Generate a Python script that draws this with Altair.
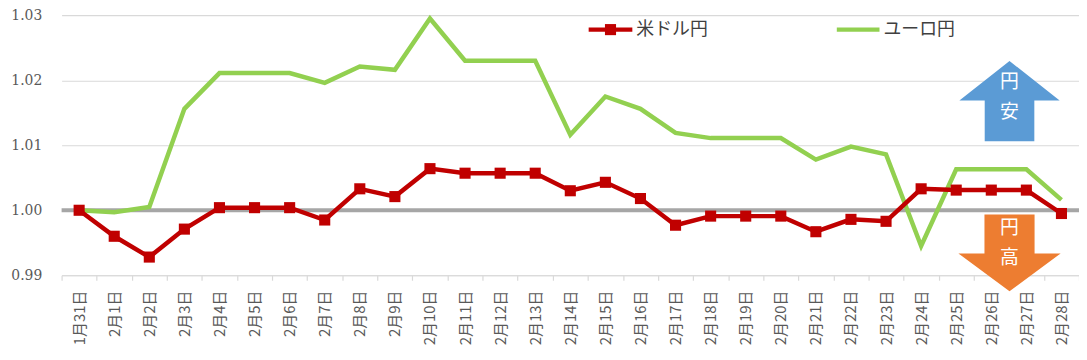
import altair as alt
import pandas as pd

# ---- data ----
dates = ["1月31日", "2月1日", "2月2日", "2月3日", "2月4日", "2月5日", "2月6日", "2月7日",
         "2月8日", "2月9日", "2月10日", "2月11日", "2月12日", "2月13日", "2月14日",
         "2月15日", "2月16日", "2月17日", "2月18日", "2月19日", "2月20日", "2月21日",
         "2月22日", "2月23日", "2月24日", "2月25日", "2月26日", "2月27日", "2月28日"]
usd_jpy = [1.0000, 0.9960, 0.9928, 0.9971, 1.0004, 1.0004, 1.0004, 0.9985, 1.0033, 1.0021,
           1.0064, 1.0057, 1.0057, 1.0057, 1.0030, 1.0043, 1.0018, 0.9977, 0.9991, 0.9991,
           0.9991, 0.9967, 0.9986, 0.9983, 1.0033, 1.0031, 1.0031, 1.0031, 0.9995]
eur_jpy = [1.0000, 0.9997, 1.0005, 1.0156, 1.0211, 1.0211, 1.0211, 1.0196, 1.0221, 1.0216,
           1.0295, 1.0230, 1.0230, 1.0230, 1.0116, 1.0175, 1.0156, 1.0119, 1.0111, 1.0111,
           1.0111, 1.0078, 1.0098, 1.0086, 0.9945, 1.0063, 1.0063, 1.0063, 1.0016]
series_names = ["米ドル円", "ユーロ円"]
y_ticks = [0.99, 1.00, 1.01, 1.02, 1.03]
baseline_value = [1.00]
up_label = ["円", "安"]
down_label = ["円", "高"]

RED = "#C00000"
GREEN = "#92D050"
GRID = "#D9D9D9"

usd_df = pd.DataFrame({"date": dates, "series": series_names[0], "value": usd_jpy})
eur_df = pd.DataFrame({"date": dates, "series": series_names[1], "value": eur_jpy})
base_df = pd.DataFrame({"value": baseline_value})
one = pd.DataFrame({"k": [0]})

x_enc = alt.X("date:N", sort=dates,
              scale=alt.Scale(type="band", paddingInner=0, paddingOuter=0),
              axis=alt.Axis(title=None, labelAngle=270, tickBand="extent", grid=False,
                            domain=True, domainColor=GRID, domainWidth=1.2,
                            ticks=True, tickColor=GRID, tickSize=5, tickWidth=1.2,
                            labelFont="Noto Sans CJK JP", labelFontSize=15,
                            labelColor="#595959", labelPadding=10))
y_enc = alt.Y("value:Q",
              scale=alt.Scale(domain=[0.99, 1.03], nice=False, zero=False),
              axis=alt.Axis(title=None, values=y_ticks, format=".2f", grid=True,
                            gridColor=GRID, gridWidth=1.2, ticks=False, domain=False,
                            labelFont="DejaVu Serif", labelFontSize=14,
                            labelColor="#595959", labelPadding=20))

base_rule = alt.Chart(base_df).mark_rule(color="#A6A6A6", strokeWidth=4).encode(y=y_enc)

eur_line = alt.Chart(eur_df).mark_line(color=GREEN, strokeWidth=4.5).encode(x=x_enc, y=y_enc)
usd_line = alt.Chart(usd_df).mark_line(color=RED, strokeWidth=4.5).encode(x=x_enc, y=y_enc)
usd_pts = alt.Chart(usd_df).mark_square(color=RED, size=125, opacity=1).encode(x=x_enc, y=y_enc)

# ---- legend (manual, inside plot) ----
leg_kw = dict(align="left", baseline="middle", font="Noto Sans CJK JP", fontSize=18, color="#404040")
leg_y = 14.5
leg_red_line = alt.Chart(one).mark_rule(color=RED, strokeWidth=4.5).encode(
    x=alt.value(531), x2=alt.value(575), y=alt.value(leg_y))
leg_red_sq = alt.Chart(one).mark_square(color=RED, size=125, opacity=1).encode(
    x=alt.value(553), y=alt.value(leg_y))
leg_red_txt = alt.Chart(one).mark_text(**leg_kw).encode(
    x=alt.value(579), y=alt.value(leg_y), text=alt.value(series_names[0]))
leg_green_line = alt.Chart(one).mark_rule(color=GREEN, strokeWidth=4.5).encode(
    x=alt.value(781), x2=alt.value(824), y=alt.value(leg_y))
leg_green_txt = alt.Chart(one).mark_text(**leg_kw).encode(
    x=alt.value(828), y=alt.value(leg_y), text=alt.value(series_names[1]))

# ---- arrows ----
up_path = "M0,-0.79 L1,0 L0.495,0 L0.495,0.81 L-0.495,0.81 L-0.495,0 L-1,0 Z"
down_path = "M0.49,-0.76 L0.49,0 L1,0 L0,0.74 L-1,0 L-0.49,0 L-0.49,-0.76 Z"
up_arrow = alt.Chart(one).mark_point(shape=up_path, size=101 * 101, filled=True,
                                     color="#5B9BD5", opacity=1, strokeWidth=0).encode(
    x=alt.value(955), y=alt.value(86))
down_arrow = alt.Chart(one).mark_point(shape=down_path, size=103 * 103, filled=True,
                                       color="#ED7D31", opacity=1, strokeWidth=0).encode(
    x=alt.value(955), y=alt.value(240))
txt_kw = dict(align="center", baseline="middle", font="Noto Sans CJK JP", fontSize=19, color="white")
up_t1 = alt.Chart(one).mark_text(**txt_kw).encode(x=alt.value(955), y=alt.value(67), text=alt.value(up_label[0]))
up_t2 = alt.Chart(one).mark_text(**txt_kw).encode(x=alt.value(955), y=alt.value(98), text=alt.value(up_label[1]))
dn_t1 = alt.Chart(one).mark_text(**txt_kw).encode(x=alt.value(955), y=alt.value(214), text=alt.value(down_label[0]))
dn_t2 = alt.Chart(one).mark_text(**txt_kw).encode(x=alt.value(955), y=alt.value(245), text=alt.value(down_label[1]))

chart = alt.layer(
    base_rule, eur_line, usd_line, usd_pts,
    leg_red_line, leg_red_sq, leg_red_txt, leg_green_line, leg_green_txt,
    up_arrow, down_arrow, up_t1, up_t2, dn_t1, dn_t2,
).properties(
    width=1025, height=262,
    padding={"left": 54, "top": 6, "right": 0, "bottom": 72},
    autosize=alt.AutoSizeParams(type="none"),
    background="white",
).configure_view(stroke=None)

chart.save("out.html", embed_options={"renderer": "svg", "actions": False})
